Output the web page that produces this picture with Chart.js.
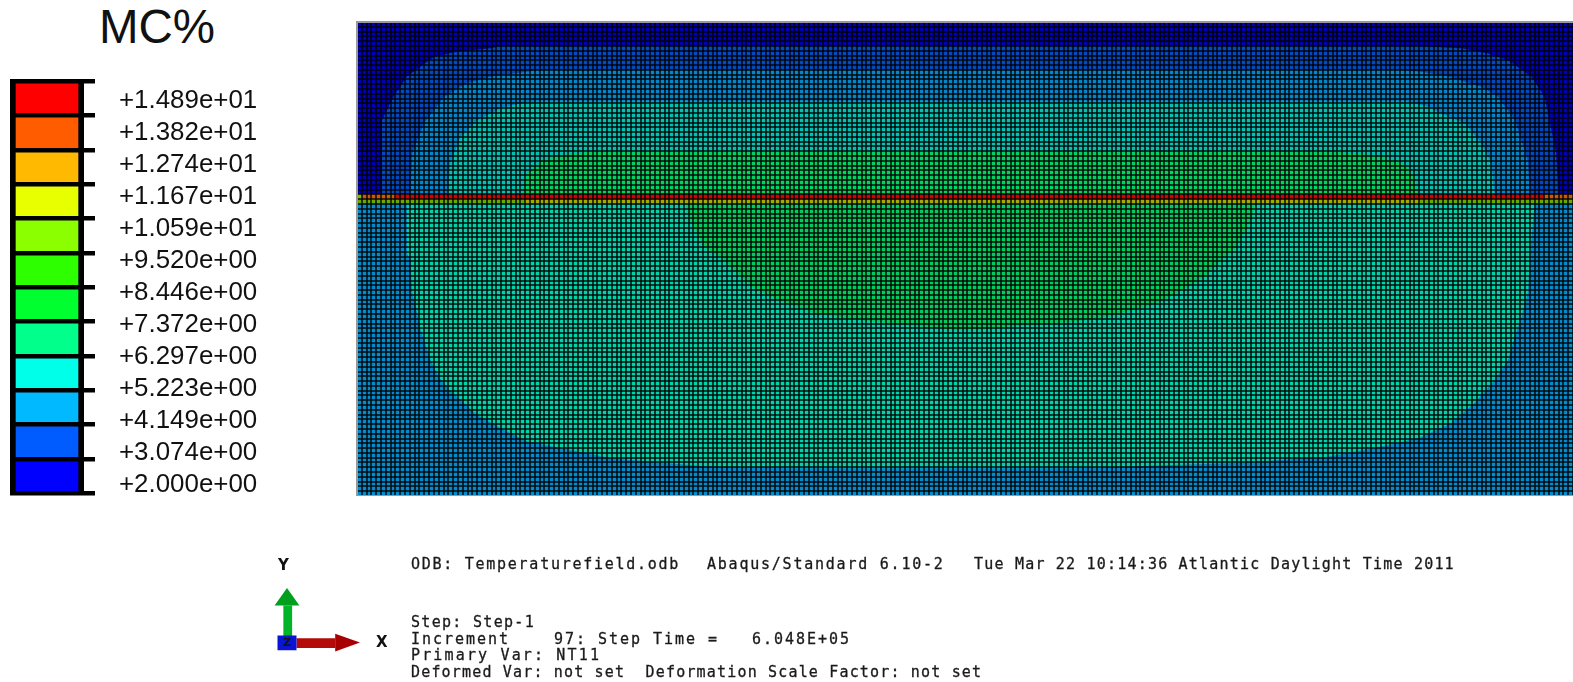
<!DOCTYPE html>
<html lang="en">
<head>
  <meta charset="UTF-8">
  <title>MC%</title>
  <script src="https://cdn.jsdelivr.net/npm/chart.js@4/dist/chart.umd.min.js"></script>
<style>
*{
    margin: 0px;
    padding: 0px;
    box-sizing: border-box;
}
body{
    width: 1573px;
    height: 682px;
    background: white;
    overflow: hidden;
    position: relative;
}
canvas{
    position: absolute;
}
#barChart{ left: 0px; top: 0px; }
#fieldChart{ left: 347px; top: 12px; }
#triadChart{ left: 267px; top: 578px; filter: blur(0.7px); }
#title{
    position: absolute;
    left: 99px;
    top: 2px;
    font: 47.5px/50px "Liberation Sans", sans-serif;
    color: #111;
}
.note, .axis{
    position: absolute;
    white-space: pre;
    color: #1a1a1a;
    filter: blur(0.55px);
}
.note{
    font: 15px/16px "DejaVu Sans Mono", monospace;
    -webkit-text-stroke: 0.3px #1a1a1a;
}
.axis{
    font: bold 15px/16px "DejaVu Sans", sans-serif;
    color: #111;
}
</style>
</head>
<body>
  <div id="title">MC%</div>
  <canvas id="barChart" width="300" height="533"></canvas>
  <canvas id="fieldChart" width="1226" height="484"></canvas>
  <canvas id="triadChart" width="100" height="80"></canvas>

  <div class="axis" style="left:278px;top:557px">Y</div>
  <div class="axis" style="left:376px;top:634px">X</div>
  <div class="axis" style="left:283px;top:635px;font-size:11px">Z</div>

  <div class="note" style="left:411px;top:556px;letter-spacing:1.73px">ODB: Temperaturefield.odb</div>
  <div class="note" style="left:707px;top:556px;letter-spacing:1.77px">Abaqus/Standard 6.10-2</div>
  <div class="note" style="left:974px;top:556px;letter-spacing:1.2px">Tue Mar 22 10:14:36 Atlantic Daylight Time 2011</div>
  <div class="note" style="left:411px;top:614px;letter-spacing:1.3px">Step: Step-1</div>
  <div class="note" style="left:411px;top:631px;letter-spacing:1.97px">Increment    97: Step Time =   6.048E+05</div>
  <div class="note" style="left:411px;top:647px;letter-spacing:2.15px">Primary Var: NT11</div>
  <div class="note" style="left:411px;top:664px;letter-spacing:1.17px">Deformed Var: not set  Deformation Scale Factor: not set</div>

<script>
// colour bar
const levels = [14.89, 13.82, 12.74, 11.67, 10.59, 9.52, 8.446, 7.372, 6.297, 5.223, 4.149, 3.074, 2.0];
const levelLabels = ["+1.489e+01", "+1.382e+01", "+1.274e+01", "+1.167e+01", "+1.059e+01", "+9.520e+00", "+8.446e+00",
                     "+7.372e+00", "+6.297e+00", "+5.223e+00", "+4.149e+00", "+3.074e+00", "+2.000e+00"];
const bandColors = ["#ff0000", "#ff5c00", "#ffb900", "#e8ff00", "#8bff00", "#2eff00", "#00ff2e",
                    "#00ff8b", "#00ffe8", "#00b9ff", "#005cff", "#0000ff"];

// contour outlines of the field, in mesh cells (x along the part, y up from the bottom)
const meshColumns = 253;
const meshRows = 99;
const topBlock = [[0,63],[0,99],[253,99],[253,63]];
const topBlue = [[5.2,63],[5.2,78.5],[7.6,83.4],[10.4,87.6],[16,91.7],[20.8,92.8],[27.8,93.5],[29.9,94],
                 [220.7,94],[229.8,93.5],[235.3,92.4],[239.5,91],[244.3,87.6],[247.1,83.4],[249.5,71.6],[249.9,63]];
const topAzure = [[11.1,63],[11.5,71.6],[13.9,77.8],[18.1,83.4],[22.9,86.2],[27.8,87.6],[34,88.4],[37.5,89],
                  [217.3,89],[221.4,88.6],[227,87.6],[233.9,85.5],[237.4,83.4],[240.9,78.5],[243.6,70.2],[244,63]];
const topTeal = [[18.8,63],[19.4,69.5],[21.5,75],[25,78.5],[29.9,81],[34,82],[37.5,82.4],
                 [218.6,82.4],[222.8,81.3],[225.6,79.9],[230.5,77.8],[233.9,73.7],[236,69.5],[236.7,63]];
const topGreen = [[34.4,63],[35.4,67.4],[38.9,70.2],[43,71.2],[48.6,71.9],
                  [203.4,71.9],[211.7,71.2],[217.6,69.5],[220,66.7],[220.7,63]];
const lowerBlock = [[0,0],[0,61],[253,61],[253,0]];
const lowerTeal = [[10.4,61],[10.4,50.7],[11.1,49.3],[11.5,42.3],[12.5,38.2],[13.2,34.7],[14.2,31.9],[15.3,28.4],
                   [17,24.9],[19.1,22.2],[22.2,19.4],[25,16.9],[30.6,13.8],[35.4,11.4],[44.4,9.6],[52.8,7.9],[72.2,6.2],[90.3,5.8],
                   [149.2,5.8],[182.5,6.9],[202,8.2],[211.7,10],[220.7,12],[227.7,15.2],[232.5,19.4],[236.7,24.2],[239.5,28.4],
                   [240.9,33.3],[242.3,37.5],[243.6,42.3],[244,49.3],[245,61]];
const lowerGreen = [[68.4,61],[69.4,57.6],[72.2,52.1],[76.4,49.3],[78.5,47.2],[82.6,43.4],[87.5,41],[95.1,38.2],[104.2,36.8],[125,34.6],
                    [149.2,36.4],[156.1,37.5],[164.5,39.6],[169.3,41.6],[176.3,45.8],[179.8,49.3],[182.5,51.4],[186,57.6],[186.7,60.4],[186.7,61]];
const jointRed = [[0,62],[0,63],[253,63],[253,62]];
const jointOrangeLeft = [[1,62],[1,63],[8,63],[8,62]];
const jointOrangeRight = [[247,62],[247,63],[253,63],[253,62]];
const jointCorner = [[0,62],[0,63],[1,63],[1,62]];
const jointLime = [[0,61],[0,62],[253,62],[253,61]];
const jointYellow = [[35,61],[35,62],[221,62],[221,61]];

// triad, one unit = length of an arrow
const triadYShaft = [[-0.05,0.1],[-0.05,0.68],[0.07,0.68],[0.07,0.1]];
const triadYHead = [[-0.17,0.68],[0,1],[0.17,0.68]];
const triadXShaft = [[0.13,-0.09],[0.13,0.09],[0.66,0.09],[0.66,-0.09]];
const triadXHead = [[0.66,-0.15],[0.66,0.17],[1,0.01]];
const triadNode = [[-0.13,-0.13],[-0.13,0.14],[0.13,0.14],[0.13,-0.13]];

function shape(points, color){
  return {
    data: points.map(p => ({x: p[0], y: p[1]})),
    showLine: true,
    fill: "shape",
    backgroundColor: color,
    borderColor: "rgba(0,0,0,0)",
    pointRadius: 0
  };
}

new Chart(document.getElementById("barChart"), {
  type: "bar",
  data: {
    labels: ["MC%"],
    datasets: bandColors.map((c, i) => ({
      data: [[levels[i + 1], levels[i]]],
      backgroundColor: c,
      borderColor: "#000",
      borderWidth: {left: 6, right: 6, top: 0, bottom: 0},
      borderSkipped: false,
      barPercentage: 1,
      categoryPercentage: 1,
      grouped: false
    }))
  },
  options: {
    responsive: false,
    animation: false,
    events: [],
    layout: {padding: {left: 10, top: 81, right: 42, bottom: 13}},
    plugins: {legend: {display: false}, tooltip: {enabled: false}},
    scales: {
      x: {display: false},
      y: {
        position: "right",
        min: 2,
        max: 14.89,
        afterBuildTicks: s => { s.ticks = levels.map(v => ({value: v})); },
        grid: {color: "#000", lineWidth: 4.5, tickLength: 11, z: 1},
        border: {display: false},
        ticks: {display: false}
      },
      labels: {
        position: "right",
        min: -0.625,
        max: 12.27,
        reverse: true,
        afterBuildTicks: s => { s.ticks = levelLabels.map((t, i) => ({value: i})); },
        afterFit: s => { s.width = 163; },
        grid: {display: false, drawTicks: false},
        border: {display: false},
        ticks: {
          autoSkip: false,
          padding: 24,
          color: "#111",
          font: {family: "Liberation Sans", size: 25.9},
          callback: v => levelLabels[v]
        }
      }
    }
  }
});

new Chart(document.getElementById("fieldChart"), {
  type: "scatter",
  data: {
    // first one ends up on top
    datasets: [
      shape(jointCorner, "rgb(130,190,0)"),
      shape(jointOrangeLeft, "rgb(205,90,0)"),
      shape(jointOrangeRight, "rgb(205,90,0)"),
      shape(jointRed, "rgb(215,0,0)"),
      shape(jointYellow, "rgb(165,170,0)"),
      shape(jointLime, "rgb(105,170,0)"),
      shape(topGreen, "rgb(0,210,100)"),
      shape(topTeal, "rgb(0,195,180)"),
      shape(topAzure, "rgb(0,135,205)"),
      shape(topBlue, "rgb(0,75,195)"),
      shape(topBlock, "rgb(0,0,185)"),
      shape(lowerGreen, "rgb(0,205,95)"),
      shape(lowerTeal, "rgb(0,210,170)"),
      shape(lowerBlock, "rgb(0,140,205)")
    ]
  },
  options: {
    responsive: false,
    animation: false,
    events: [],
    layout: {padding: {left: 10, top: 10, right: 0, bottom: 0}},
    plugins: {legend: {display: false}, tooltip: {enabled: false}},
    scales: {
      x: {
        type: "linear",
        min: 0,
        max: meshColumns,
        grid: {color: "rgba(0,0,0,0.7)", lineWidth: 2, drawTicks: false, z: 1},
        border: {color: "#999", width: 2, z: 2},
        ticks: {display: false, stepSize: 1}
      },
      top: {
        type: "linear",
        position: "top",
        axis: "x",
        min: 0,
        max: meshColumns,
        grid: {display: false, drawTicks: false},
        border: {color: "#999", width: 2, z: 2},
        ticks: {display: false}
      },
      y: {
        type: "linear",
        min: 0,
        max: meshRows,
        grid: {color: "rgba(0,0,0,0.7)", lineWidth: 2, drawTicks: false, z: 1},
        border: {color: "#999", width: 2, z: 2},
        ticks: {display: false, stepSize: 1}
      }
    }
  }
});

new Chart(document.getElementById("triadChart"), {
  type: "scatter",
  data: {
    datasets: [
      shape(triadNode, "#0a14d2"),
      shape(triadXHead, "#a80000"),
      shape(triadXShaft, "#b40a0a"),
      shape(triadYHead, "#00a01e"),
      shape(triadYShaft, "#00b428")
    ]
  },
  options: {
    responsive: false,
    animation: false,
    events: [],
    layout: {padding: 0},
    plugins: {legend: {display: false}, tooltip: {enabled: false}},
    scales: {
      x: {display: false, type: "linear", min: -0.274, max: 1.096},
      y: {display: false, type: "linear", min: -0.27, max: 1.18}
    }
  }
});
</script>
</body>
</html>
